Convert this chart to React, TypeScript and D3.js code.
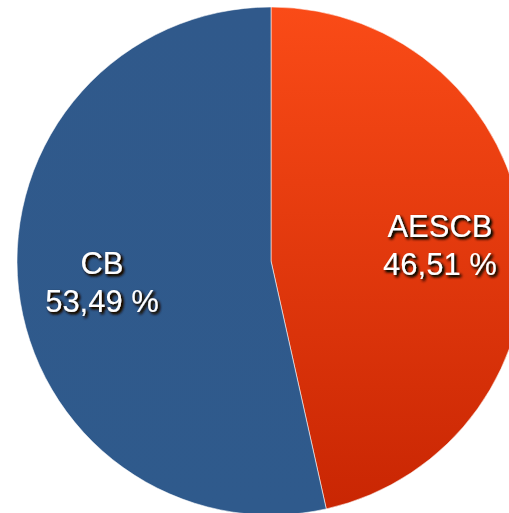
import React from "react";
import * as d3 from "d3";

const categories = ["AESCB", "CB"];
const values = [46.51, 53.49];
const valueLabels = ["46,51 %", "53,49 %"];

const W = 509;
const H = 513;
const cx = 271;
const cy = 261;
const R = 254;
const labelR = 170;

export default function App() {
  const pie = d3.pie<number>().sort(null).startAngle(0).endAngle(2 * Math.PI)(values);
  const arc = d3.arc<d3.PieArcDatum<number>>().innerRadius(0).outerRadius(R);
  const labelArc = d3.arc<d3.PieArcDatum<number>>().innerRadius(labelR).outerRadius(labelR);
  const fills = ["url(#orangeGrad)", "url(#blueGrad)"];
  return (
    <svg width={W} height={H} style={{ position: "absolute", left: 0, top: 0 }}>
      <defs>
        <linearGradient id="orangeGrad" x1="0" y1="0" x2="0" y2="1" gradientUnits="objectBoundingBox">
          <stop offset="0" stopColor="#fa4b17" />
          <stop offset="1" stopColor="#c92603" />
        </linearGradient>
        <linearGradient id="blueGrad" x1="0" y1="0" x2="0" y2="1">
          <stop offset="0" stopColor="#30598b" />
          <stop offset="1" stopColor="#2f5a8c" />
        </linearGradient>
        <filter id="shadow" x="-20%" y="-30%" width="140%" height="160%">
          <feGaussianBlur in="SourceAlpha" stdDeviation="1.6" result="blur" />
          <feOffset in="blur" dx="1.5" dy="2" result="off" />
          <feComponentTransfer in="off" result="dark">
            <feFuncA type="linear" slope="1.6" />
          </feComponentTransfer>
          <feFlood floodColor="#1a0d05" result="col" />
          <feComposite in="col" in2="dark" operator="in" result="sh" />
          <feMerge>
            <feMergeNode in="sh" />
            <feMergeNode in="SourceGraphic" />
          </feMerge>
        </filter>
      </defs>
      <g transform={`translate(${cx},${cy})`}>
        {pie.map((d, i) => (
          <path key={categories[i]} d={arc(d) || ""} fill={fills[i]} stroke="rgba(255,255,255,0.55)" strokeWidth={1} />
        ))}
        {pie.map((d, i) => {
          const [x, y] = labelArc.centroid(d);
          const c = y + 3;
          return (
            <text
              key={"t" + categories[i]}
              x={x}
              textAnchor="middle"
              fill="#fff"
              fontFamily="'Liberation Sans', Arial, Helvetica, sans-serif"
              fontSize={31}
              filter="url(#shadow)"
            >
              <tspan x={x} y={c - 8.5}>{categories[i]}</tspan>
              <tspan x={x} y={c + 29.5}>{valueLabels[i]}</tspan>
            </text>
          );
        })}
      </g>
    </svg>
  );
}
